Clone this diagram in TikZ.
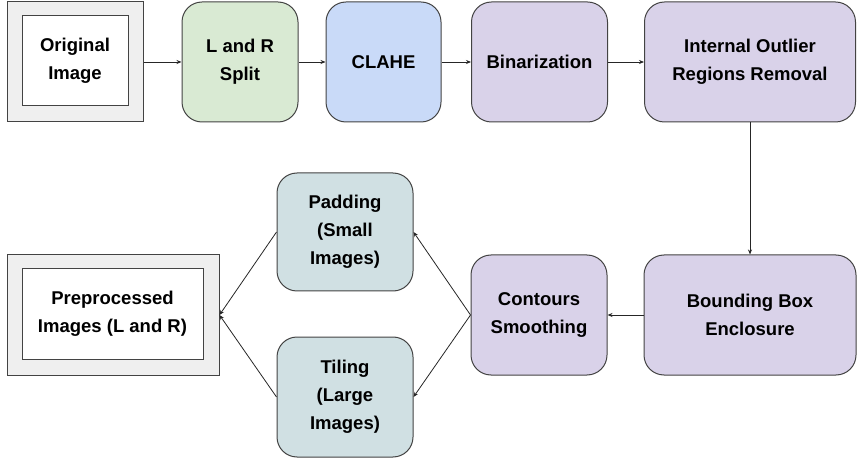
\documentclass[tikz,border=0pt]{standalone}
\usepackage{fontspec}
\setmainfont{Liberation Sans}
\usetikzlibrary{arrows.meta}
\definecolor{cgreen}{HTML}{D9EAD3}
\definecolor{cblue}{HTML}{C9DAF8}
\definecolor{cpurple}{HTML}{D9D2E9}
\definecolor{cteal}{HTML}{D0E0E3}
\definecolor{cgray}{HTML}{EFEFEF}
\definecolor{cborder}{HTML}{434343}
\begin{document}
\begin{tikzpicture}[x=1pt,y=-1pt,
  every node/.style={font=\fontsize{18.5}{28}\selectfont\bfseries, align=center, inner sep=0pt},
  stepbox/.style={draw=cborder, line width=1pt, rounded corners=20pt, minimum height=120pt},
  outerbox/.style={draw=cborder, line width=1pt, fill=cgray, minimum height=120pt},
  innerbox/.style={draw=cborder, line width=1pt, fill=white, minimum height=90pt},
  conn/.style={draw=black!85, line width=0.8pt, -{Stealth[length=5pt,width=4pt]}}
]
\useasboundingbox (0,0) rectangle (862,462);
% top row
\node[outerbox, minimum width=136pt] (orig) at (75,62) {};
\node[innerbox, minimum width=106pt] (origin) at (75,61) {Original\\Image};
\node[stepbox, fill=cgreen, minimum width=116pt] (split) at (240,62) {L and R\\Split};
\node[stepbox, fill=cblue, minimum width=115pt] (clahe) at (383.5,62) {CLAHE};
\node[stepbox, fill=cpurple, minimum width=136pt] (bin) at (539.5,62) {Binarization};
\node[stepbox, fill=cpurple, minimum width=211pt] (outl) at (750,62) {Internal Outlier\\Regions Removal};
% bottom row
\node[stepbox, fill=cpurple, minimum width=212pt] (bbox) at (750,315) {Bounding Box\\Enclosure};
\node[stepbox, fill=cpurple, minimum width=136pt] (cont) at (539,315) {Contours\\Smoothing};
\node[stepbox, fill=cteal, minimum width=136pt, minimum height=118pt] (pad) at (345,232) {Padding\\(Small\\Images)};
\node[stepbox, fill=cteal, minimum width=136pt] (tile) at (345,397) {Tiling\\(Large\\Images)};
\node[outerbox, minimum width=212pt] (prep) at (113,315) {};
\node[innerbox, minimum width=181pt] (prepin) at (112.5,314) {Preprocessed\\Images (L and R)};
% connectors
\draw[conn] (orig.east) -- (split.west);
\draw[conn] (split.east) -- (clahe.west);
\draw[conn] (clahe.east) -- (bin.west);
\draw[conn] (bin.east) -- (outl.west);
\draw[conn] (outl.south) -- (bbox.north);
\draw[conn] (bbox.west) -- (cont.east);
\draw[conn] (cont.west) -- (pad.east);
\draw[conn] (cont.west) -- (tile.east);
\draw[conn] (pad.west) -- (prep.east);
\draw[conn] (tile.west) -- (prep.east);
\end{tikzpicture}
\end{document}
